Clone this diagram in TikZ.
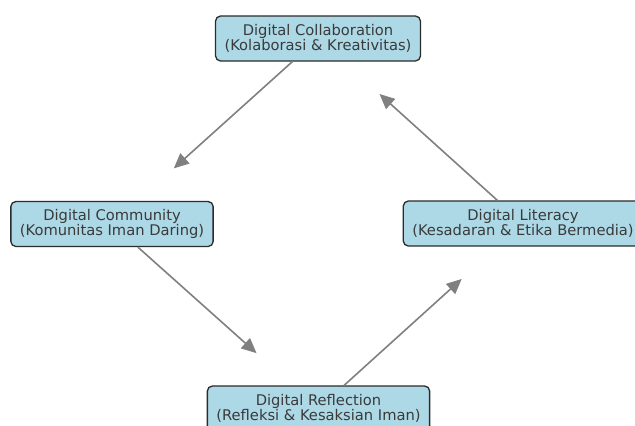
\documentclass[tikz,border=0pt]{standalone}
\usepackage{fontspec}
\setmainfont{DejaVu Sans}
\usetikzlibrary{arrows.meta,calc}
\definecolor{boxfill}{HTML}{ADD8E6}
\definecolor{boxline}{HTML}{2B2B2B}
\definecolor{txt}{HTML}{3A3A3A}
\definecolor{arr}{HTML}{808080}
\tikzset{
  concept/.style={draw=boxline, line width=1.3pt, fill=boxfill, rounded corners=5pt,
    align=center, inner xsep=9pt, minimum height=45pt, text=txt,
    font=\fontsize{14.7pt}{15.5pt}\selectfont},
  flow/.style={draw=arr, line width=1.6pt, -{Triangle[length=15pt,width=13.5pt]}}
}
\begin{document}
\begin{tikzpicture}[x=1pt,y=-1pt]
\useasboundingbox (0,0) rectangle (635,426);
\fill[white] (0,0) rectangle (635,426);
\node[concept] (top) at (318,38.5) {Digital Collaboration\\(Kolaborasi \& Kreativitas)};
\node[concept] (left) at (112,224) {Digital Community\\(Komunitas Iman Daring)};
\node[concept] (right) at (523,223.5) {Digital Literacy\\(Kesadaran \& Etika Bermedia)};
\node[concept] (bottom) at (318.5,408.5) {Digital Reflection\\(Refleksi \& Kesaksian Iman)};
\coordinate (e1) at ($(top)!0.70!(left)$);
\coordinate (e2) at ($(left)!0.70!(bottom)$);
\coordinate (e3) at ($(bottom)!0.70!(right)$);
\coordinate (e4) at ($(right)!0.70!(top)$);
\draw[flow] (top) -- (e1);
\draw[flow] (left) -- (e2);
\draw[flow] (bottom) -- (e3);
\draw[flow] (right) -- (e4);
\end{tikzpicture}
\end{document}
